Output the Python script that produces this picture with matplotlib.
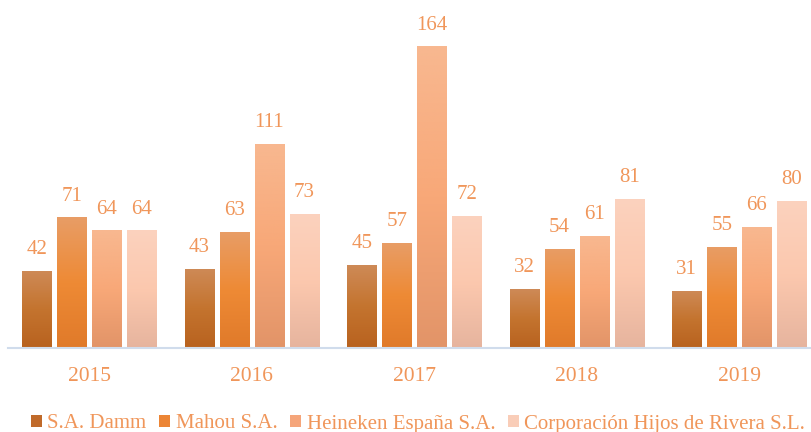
import matplotlib
matplotlib.use("Agg")
import matplotlib.pyplot as plt
import numpy as np
from matplotlib.colors import LinearSegmentedColormap
from matplotlib.patches import Patch

years = ["2015", "2016", "2017", "2018", "2019"]
series = ["S.A. Damm", "Mahou S.A.", "Heineken España S.A.", "Corporación Hijos de Rivera S.L."]
damm = [42, 43, 45, 32, 31]
mahou = [71, 63, 57, 54, 55]
heineken = [64, 111, 164, 61, 66]
rivera = [64, 73, 72, 81, 80]
values = [damm, mahou, heineken, rivera]

# gradients (bottom -> middle -> top)
grads = [
    ["#B8621F", "#C4742F", "#CE8A57"],
    ["#E07A2A", "#EE8A35", "#E89D66"],
    ["#E29468", "#F8A878", "#F8B890"],
    ["#E6B49E", "#FCC8AE", "#FBD2BE"],
]
legend_colors = ["#C06A2A", "#EC8535", "#F5A57A", "#F9CDB8"]
txt_color = "#F0965A"

plt.rcParams['font.family'] = ['Liberation Serif', 'DejaVu Serif']

fig = plt.figure(figsize=(8.12, 4.32), dpi=100)
ax = fig.add_axes([8/812, 1 - 348/432, 812.5/812, (348 - 17)/432])
ax.set_xlim(-0.5, 4.5)
ax.set_ylim(0, 180)

x = np.arange(len(years))
step = 35 / 162.5
width = 29.5 / 162.5
for j, (vals, g) in enumerate(zip(values, grads)):
    cmap = LinearSegmentedColormap.from_list(f"g{j}", g)
    bars = ax.bar(x + (j - 1.5) * step, vals, width, facecolor="none", edgecolor="none")
    for b, v in zip(bars, vals):
        x0, y0 = b.get_x(), b.get_y()
        w, h = b.get_width(), b.get_height()
        grad = np.linspace(0, 1, 256).reshape(-1, 1)
        im = ax.imshow(grad, cmap=cmap, extent=[x0, x0 + w, y0, y0 + h],
                       origin="lower", aspect="auto", zorder=2)
        im.set_clip_path(b)
        ax.annotate(str(v), (x0 + w / 2, h), xytext=(0, 8.5), textcoords="offset points",
                    ha="center", va="bottom", color=txt_color, fontsize=15)

ax.set_xlim(-0.5, 4.5)
ax.set_ylim(0, 180)
for s in ["top", "right", "left"]:
    ax.spines[s].set_visible(False)
ax.spines["bottom"].set_color("#D0DCEC")
ax.spines["bottom"].set_linewidth(1.5)
ax.set_yticks([])
ax.set_xticks(x)
ax.set_xticklabels(years, color=txt_color, fontsize=15.5)
ax.tick_params(axis="x", length=0, pad=14)

handles = [Patch(facecolor=c, edgecolor="none") for c in legend_colors]
leg = fig.legend(handles, series, loc="center", bbox_to_anchor=(418/812, 1 - 424/432),
                 ncol=4, frameon=False, fontsize=15, handlelength=0.55, handleheight=0.55,
                 handletextpad=0.25, columnspacing=0.6)
for t in leg.get_texts():
    t.set_color(txt_color)

fig.savefig("out.png", dpi=100)
